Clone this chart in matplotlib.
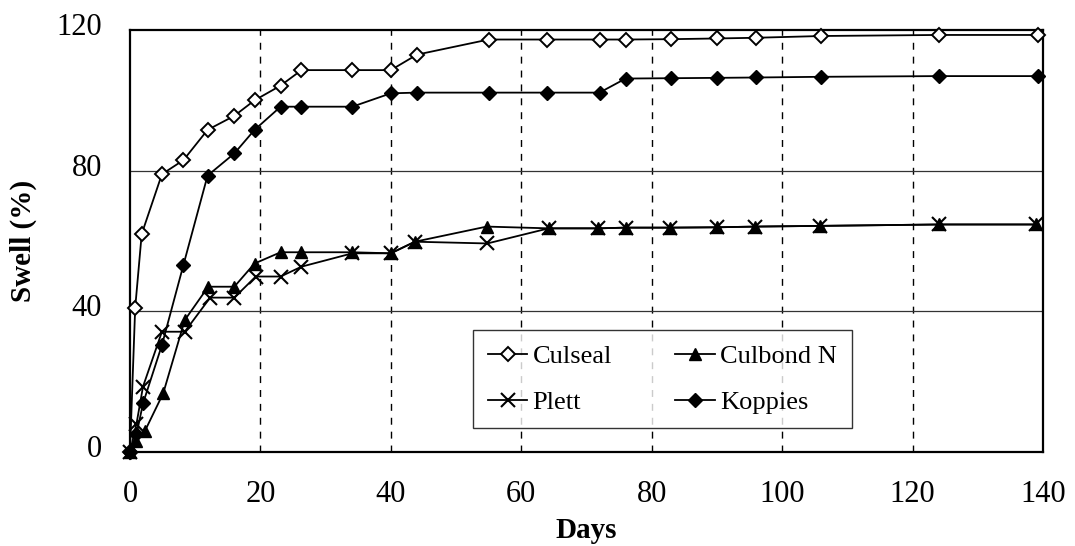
import matplotlib.pyplot as plt
import matplotlib.transforms as mtransforms

# swell data (days, %)
culseal_days = [0, 0.8, 1.8, 4.9, 8.2, 11.9, 16, 19.1, 23.1, 26.3, 34.1, 40, 44, 55, 64, 72, 76, 83, 90, 96, 106, 124, 139.3]
culseal_swell = [0, 41, 62, 79, 83, 91.6, 95.6, 100, 104.2, 108.6, 108.6, 108.6, 113, 117.3, 117.3, 117.3, 117.3, 117.4, 117.6, 117.8, 118.3, 118.6, 118.6]

koppies_days = [0, 1, 2, 4.9, 8.2, 11.9, 16, 19.1, 23.1, 26.3, 34.1, 40, 44, 55, 64, 72, 76, 83, 90, 96, 106, 124, 139.3]
koppies_swell = [0, 5, 13.8, 30.4, 53.2, 78.6, 84.9, 91.6, 98.2, 98.2, 98.2, 102, 102.2, 102.2, 102.2, 102.2, 106.2, 106.3, 106.4, 106.5, 106.7, 106.9, 106.9]

culbond_days = [0, 1, 2.3, 5.1, 8.4, 12, 16, 19.1, 23.1, 26.3, 34.1, 40, 43.7, 54.7, 64.2, 71.8, 76, 82.8, 90, 95.9, 105.8, 124, 139]
culbond_swell = [0, 3, 6, 16.7, 37.5, 47, 47, 53.6, 56.8, 56.8, 56.8, 56.5, 59.8, 64.1, 63.6, 63.6, 63.8, 63.8, 63.9, 64.1, 64.3, 64.7, 64.7]

plett_days = [0, 1, 2, 4.9, 8.4, 12.3, 16, 19.3, 23.1, 26.3, 34.1, 40, 43.7, 54.8, 64.2, 71.8, 76, 82.8, 90, 95.9, 105.8, 124, 139]
plett_swell = [0, 8, 18.6, 34.2, 34.2, 43.9, 43.9, 49.9, 49.9, 52.7, 56.5, 56.5, 59.8, 59.3, 63.6, 63.6, 63.8, 63.8, 63.9, 64.1, 64.3, 64.7, 64.7]

plt.rcParams['font.family'] = ['Liberation Serif', 'DejaVu Serif']

fig = plt.figure(figsize=(10.75, 5.46), dpi=100)
ax = fig.add_axes([0.1209, 0.1722, 0.8493, 0.7728])

lw = 1.3
ax.plot(culseal_days, culseal_swell, color='black', lw=lw, marker='D', ms=7,
        mfc='white', mec='black', mew=1.4, label='Culseal', clip_on=False, zorder=5)
ax.plot(plett_days, plett_swell, color='black', lw=lw, marker='x', ms=10,
        mew=1.5, label='Plett', clip_on=False, zorder=4)
ax.plot(culbond_days, culbond_swell, color='black', lw=lw, marker='^', ms=9,
        mfc='black', mec='black', label='Culbond N', clip_on=False, zorder=4)
ax.plot(koppies_days, koppies_swell, color='black', lw=lw, marker='D', ms=7,
        mfc='black', mec='black', label='Koppies', clip_on=False, zorder=5)

ax.set_xlim(0, 140)
ax.set_ylim(0, 120)
ax.set_xticks(range(0, 141, 20))
ax.set_yticks([0, 40, 80, 120])

# dashed vertical grid, solid horizontal grid
for xv in range(20, 140, 20):
    ax.axvline(xv, color='black', lw=1.0, ls=(0, (5, 5)), zorder=1)
for yv in [40, 80]:
    ax.axhline(yv, color='#333333', lw=0.9, zorder=1)

for s in ax.spines.values():
    s.set_linewidth(1.6)

ax.tick_params(axis='both', length=0, labelsize=22)
ax.tick_params(axis='x', pad=20)
ax.tick_params(axis='y', pad=20)

offset = mtransforms.ScaledTranslation(0, 6 / 100, fig.dpi_scale_trans)
for lab in ax.get_yticklabels():
    lab.set_transform(lab.get_transform() + offset)

ax.set_xlabel('Days', fontsize=21, fontweight='bold', labelpad=6)
ax.set_ylabel('Swell (%)', fontsize=21, fontweight='bold', labelpad=14)

leg = ax.legend(ncol=2, loc='upper left', bbox_to_anchor=(0.376, 0.289),
                fontsize=19, frameon=True, fancybox=False, handlelength=1.5,
                handletextpad=0.2, columnspacing=2.4, borderpad=0.55,
                labelspacing=0.85, borderaxespad=0)
leg.get_frame().set_edgecolor('black')
leg.get_frame().set_linewidth(1.0)
leg.set_zorder(10)

fig.savefig('out.png', dpi=100)
